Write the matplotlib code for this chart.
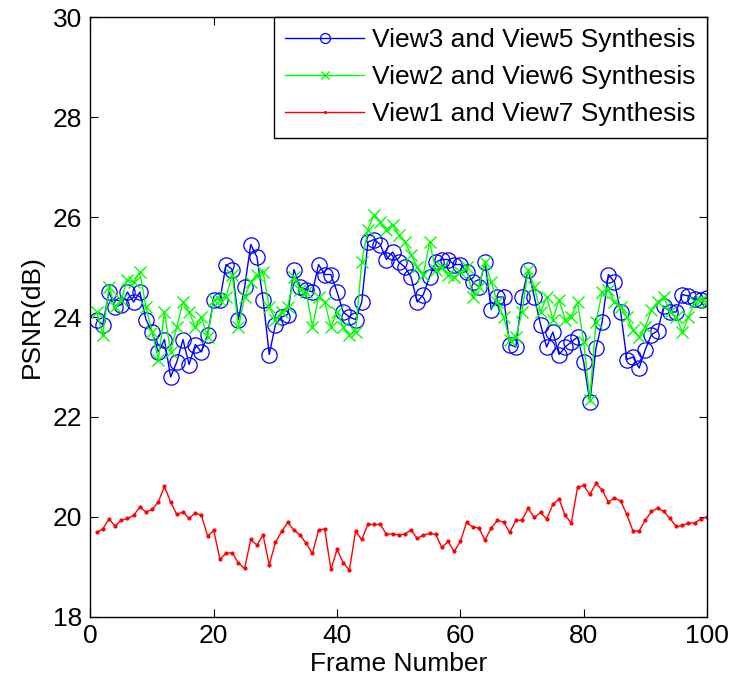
import matplotlib
matplotlib.use('Agg')
import matplotlib.pyplot as plt
import numpy as np

plt.rcParams['font.family'] = ['Liberation Sans', 'DejaVu Sans']

frames = np.arange(1, 101)

# View3 and View5 Synthesis (blue, circles)
psnr_35 = [23.95, 23.85, 24.5, 24.2, 24.25, 24.5, 24.3, 24.5, 23.95, 23.7,
           23.3, 23.55, 22.8, 23.1, 23.55, 23.05, 23.45, 23.3, 23.65, 24.35,
           24.35, 25.05, 24.95, 23.95, 24.6, 25.45, 25.2, 24.35, 23.25, 23.85,
           24.0, 24.05, 24.95, 24.6, 24.55, 24.5, 25.05, 24.85, 24.85, 24.5,
           24.1, 24.0, 23.95, 24.3, 25.5, 25.55, 25.45, 25.15, 25.3, 25.1,
           25.0, 24.8, 24.3, 24.45, 24.8, 25.1, 25.15, 25.15, 25.05, 25.05,
           24.9, 24.7, 24.6, 25.1, 24.15, 24.4, 24.4, 23.45, 23.4, 24.4,
           24.95, 24.4, 23.85, 23.4, 23.7, 23.25, 23.4, 23.5, 23.6, 23.1,
           22.3, 23.38, 23.9, 24.85, 24.7, 24.1, 23.15, 23.2, 22.98, 23.35,
           23.65, 23.72, 24.22, 24.1, 24.1, 24.45, 24.42, 24.36, 24.35, 24.38]

# View2 and View6 Synthesis (green, crosses)
psnr_26 = [24.1, 23.65, 24.6, 24.2, 24.35, 24.75, 24.7, 24.9, 24.2, 23.7,
           23.15, 24.1, 23.3, 23.8, 24.3, 24.1, 23.8, 24.0, 23.6, 24.35,
           24.35, 24.4, 24.85, 23.8, 24.4, 24.7, 24.85, 24.9, 24.2, 23.95,
           24.1, 24.2, 24.8, 24.55, 24.5, 23.8, 24.4, 24.3, 23.8, 24.1,
           23.8, 23.65, 23.7, 25.1, 25.75, 26.05, 25.9, 25.75, 25.85, 25.65,
           25.5, 25.25, 25.0, 24.85, 25.5, 24.95, 25.0, 24.85, 24.8, 24.9,
           25.0, 24.4, 24.6, 25.1, 24.7, 24.3, 24.0, 23.55, 23.6, 24.1,
           24.95, 24.6, 24.1, 24.4, 23.95, 24.35, 23.95, 24.0, 24.3, 23.5,
           22.35, 23.9, 24.5, 24.55, 24.3, 24.2, 24.0, 23.75, 23.6, 23.8,
           24.15, 24.3, 24.4, 24.1, 24.0, 23.7, 24.0, 24.3, 24.35, 24.3]

# View1 and View7 Synthesis (red, dots)
psnr_17 = [19.69, 19.76, 19.96, 19.82, 19.94, 19.97, 20.03, 20.2, 20.1, 20.15,
           20.3, 20.61, 20.3, 20.05, 20.1, 19.97, 20.08, 20.03, 19.62, 19.73,
           19.15, 19.28, 19.28, 19.08, 18.97, 19.55, 19.44, 19.64, 19.04, 19.49,
           19.71, 19.89, 19.74, 19.64, 19.47, 19.27, 19.74, 19.76, 18.95, 19.35,
           19.08, 18.94, 19.71, 19.55, 19.85, 19.85, 19.85, 19.66, 19.66, 19.64,
           19.66, 19.74, 19.57, 19.64, 19.67, 19.65, 19.39, 19.51, 19.31, 19.51,
           19.89, 19.8, 19.78, 19.54, 19.78, 19.93, 19.9, 19.69, 19.93, 19.94,
           20.17, 19.99, 20.09, 19.96, 20.25, 20.36, 20.03, 19.88, 20.59, 20.63,
           20.45, 20.67, 20.54, 20.3, 20.38, 20.32, 20.05, 19.72, 19.72, 19.94,
           20.11, 20.18, 20.11, 19.97, 19.81, 19.83, 19.88, 19.88, 19.96, 20.0]

fig = plt.figure(figsize=(7.32, 6.81), dpi=100)
ax = fig.add_axes([0.1236, 0.094, 0.8422, 0.881])

ax.plot(frames, psnr_35, color='#0000ff', lw=1.0, marker='o', ms=11,
        mfc='none', mec='#0000ff', mew=0.9, label='View3 and View5 Synthesis')
ax.plot(frames, psnr_26, color='#00ff00', lw=1.0, marker='x', ms=8,
        mew=1.0, label='View2 and View6 Synthesis')
ax.plot(frames, psnr_17, color='#ff0000', lw=1.0, marker='.', ms=4,
        label='View1 and View7 Synthesis')

ax.set_xlim(0, 100)
ax.set_ylim(18, 30)
ax.set_xticks(np.arange(0, 101, 20))
ax.set_yticks(np.arange(18, 31, 2))
ax.tick_params(direction='in', top=True, right=True, labelsize=19, length=6)
ax.tick_params(axis='y', pad=6)
ax.tick_params(axis='x', pad=5)
for s in ax.spines.values():
    s.set_linewidth(1.0)

ax.set_xlabel('Frame Number', fontsize=19, labelpad=3)
ax.set_ylabel('PSNR(dB)', fontsize=19, labelpad=6)

leg = ax.legend(loc='upper right', fontsize=19, fancybox=False, edgecolor='black',
                framealpha=1, borderaxespad=0, handlelength=3.0, handletextpad=0.3,
                labelspacing=0.5, borderpad=0.42, markerscale=0.65)
leg.get_frame().set_linewidth(1.0)

fig.savefig('out.png', dpi=100)
